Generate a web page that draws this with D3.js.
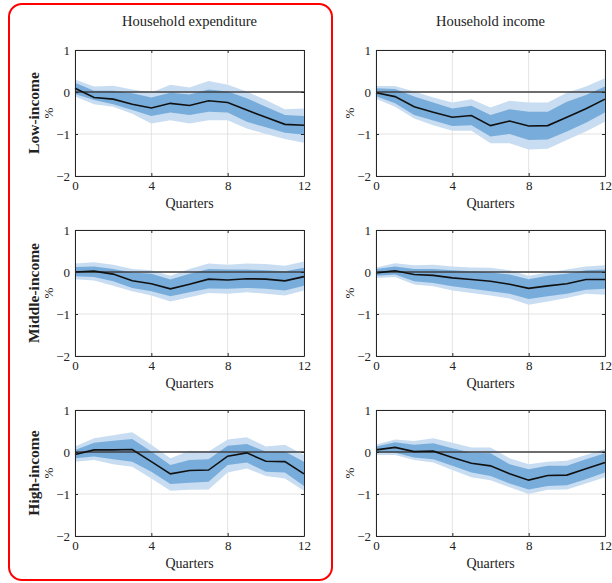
<!DOCTYPE html>
<html>
<head>
<meta charset="utf-8">
<script src="https://cdn.jsdelivr.net/npm/d3@7"></script>
<style>
  body { margin: 0; background: #fff; }
  svg text { font-family: "Liberation Serif", "DejaVu Serif", serif; fill: #222; }
</style>
</head>
<body>
<svg id="svg1"></svg>
<script>
var quarters = [0,1,2,3,4,5,6,7,8,9,10,11,12];
var xTicks = [0, 4, 8, 12];
var yTicks = [1, 0, -1, -2];
var columnTitles = ['Household expenditure', 'Household income'];
var rowTitles = ['Low-income', 'Middle-income', 'High-income'];

// low-income, expenditure
var lowExpMed  = [0.09,-0.13,-0.17,-0.29,-0.38,-0.27,-0.32,-0.21,-0.25,-0.43,-0.60,-0.77,-0.79];
var lowExpLo68 = [-0.05,-0.19,-0.29,-0.43,-0.57,-0.49,-0.55,-0.47,-0.49,-0.71,-0.84,-0.97,-1.02];
var lowExpHi68 = [0.22,0.03,0.03,-0.03,-0.13,-0.02,-0.06,0.06,0.01,-0.15,-0.35,-0.55,-0.57];
var lowExpLo90 = [-0.11,-0.29,-0.35,-0.52,-0.75,-0.67,-0.75,-0.67,-0.67,-0.87,-1.00,-1.12,-1.21];
var lowExpHi90 = [0.30,0.13,0.15,0.06,-0.01,0.17,0.11,0.26,0.17,0.01,-0.19,-0.41,-0.39];

// low-income, income
var lowIncMed  = [-0.02,-0.11,-0.35,-0.48,-0.60,-0.56,-0.80,-0.69,-0.81,-0.80,-0.60,-0.40,-0.17];
var lowIncLo68 = [-0.10,-0.27,-0.55,-0.68,-0.81,-0.79,-1.06,-1.00,-1.14,-1.13,-0.94,-0.73,-0.49];
var lowIncHi68 = [0.09,0.07,-0.11,-0.25,-0.39,-0.33,-0.55,-0.41,-0.47,-0.47,-0.23,-0.07,0.13];
var lowIncLo90 = [-0.16,-0.35,-0.63,-0.79,-0.92,-0.92,-1.22,-1.22,-1.37,-1.35,-1.14,-0.94,-0.71];
var lowIncHi90 = [0.14,0.14,0.01,-0.13,-0.25,-0.17,-0.37,-0.21,-0.25,-0.25,-0.02,0.13,0.33];

// middle-income, expenditure
var midExpMed  = [0.00,0.02,-0.05,-0.21,-0.28,-0.40,-0.29,-0.17,-0.19,-0.16,-0.17,-0.21,-0.11];
var midExpLo68 = [-0.10,-0.12,-0.22,-0.38,-0.46,-0.58,-0.48,-0.39,-0.40,-0.38,-0.40,-0.44,-0.33];
var midExpHi68 = [0.12,0.13,0.07,-0.01,-0.04,-0.18,-0.04,0.07,0.06,0.06,0.04,0.02,0.10];
var midExpLo90 = [-0.17,-0.20,-0.33,-0.46,-0.56,-0.70,-0.60,-0.50,-0.52,-0.48,-0.52,-0.56,-0.44];
var midExpHi90 = [0.20,0.23,0.17,0.07,0.04,-0.09,0.07,0.20,0.17,0.20,0.19,0.15,0.25];

// middle-income, income
var midIncMed  = [-0.02,0.03,-0.06,-0.08,-0.14,-0.18,-0.22,-0.29,-0.39,-0.33,-0.28,-0.18,-0.18];
var midIncLo68 = [-0.09,-0.06,-0.22,-0.26,-0.34,-0.40,-0.46,-0.52,-0.64,-0.58,-0.52,-0.42,-0.40];
var midIncHi68 = [0.07,0.13,0.07,0.07,0.04,0.02,-0.01,-0.06,-0.17,-0.09,-0.04,0.04,0.06];
var midIncLo90 = [-0.14,-0.12,-0.30,-0.34,-0.44,-0.50,-0.56,-0.63,-0.78,-0.70,-0.62,-0.52,-0.54];
var midIncHi90 = [0.11,0.21,0.16,0.17,0.13,0.11,0.10,0.04,-0.09,-0.01,0.06,0.13,0.16];

// high-income, expenditure
var highExpMed  = [-0.06,0.05,0.05,0.06,-0.23,-0.52,-0.44,-0.43,-0.10,-0.02,-0.22,-0.23,-0.52];
var highExpLo68 = [-0.15,-0.11,-0.17,-0.23,-0.47,-0.76,-0.73,-0.71,-0.31,-0.25,-0.47,-0.49,-0.81];
var highExpHi68 = [0.05,0.22,0.27,0.31,0.01,-0.31,-0.19,-0.17,0.15,0.19,0.01,0.01,-0.23];
var highExpLo90 = [-0.23,-0.19,-0.29,-0.35,-0.63,-0.92,-0.90,-0.89,-0.49,-0.39,-0.57,-0.63,-0.92];
var highExpHi90 = [0.13,0.33,0.40,0.47,0.17,-0.15,0.03,0.01,0.30,0.35,0.13,0.17,-0.07];

// high-income, income
var highIncMed  = [0.05,0.11,0.01,0.02,-0.13,-0.27,-0.33,-0.52,-0.67,-0.56,-0.55,-0.40,-0.25];
var highIncLo68 = [-0.02,-0.02,-0.13,-0.17,-0.33,-0.49,-0.57,-0.75,-0.89,-0.81,-0.79,-0.65,-0.49];
var highIncHi68 = [0.13,0.23,0.17,0.21,0.09,-0.02,-0.03,-0.29,-0.41,-0.33,-0.33,-0.17,-0.03];
var highIncLo90 = [-0.07,-0.07,-0.19,-0.25,-0.43,-0.60,-0.67,-0.84,-1.00,-0.90,-0.89,-0.75,-0.60];
var highIncHi90 = [0.18,0.30,0.26,0.33,0.22,0.11,0.11,-0.15,-0.29,-0.23,-0.21,-0.07,0.07];

var panels = [
  [lowExpMed, lowExpLo68, lowExpHi68, lowExpLo90, lowExpHi90],
  [lowIncMed, lowIncLo68, lowIncHi68, lowIncLo90, lowIncHi90],
  [midExpMed, midExpLo68, midExpHi68, midExpLo90, midExpHi90],
  [midIncMed, midIncLo68, midIncHi68, midIncLo90, midIncHi90],
  [highExpMed, highExpLo68, highExpHi68, highExpLo90, highExpHi90],
  [highIncMed, highIncLo68, highIncHi68, highIncLo90, highIncHi90]
];

var svg = d3.select('#svg1').attr('width', 612).attr('height', 583);

// red highlight around the expenditure column
svg.append('rect')
  .attr('x', 9).attr('y', 4).attr('width', 323).attr('height', 576)
  .attr('rx', 13).attr('ry', 13)
  .attr('fill', 'none').attr('stroke', '#ff0000').attr('stroke-width', 2);

var colLeft = [75, 376];
var plotW = 229;
var rowTop = [50, 230, 410];
var plotH = 126;

columnTitles.forEach(function(t, c){
  svg.append('text')
    .attr('x', colLeft[c] + plotW / 2).attr('y', 26)
    .attr('text-anchor', 'middle').style('font-size', '14.5px')
    .text(t);
});

for (var r = 0; r < 3; r++) {
  svg.append('text')
    .attr('transform', 'translate(39,' + (rowTop[r] + plotH / 2) + ') rotate(-90)')
    .attr('text-anchor', 'middle')
    .style('font-size', '15.5px').style('font-weight', 'bold')
    .text(rowTitles[r]);

  for (var c = 0; c < 2; c++) {
    drawPanel(colLeft[c], rowTop[r], panels[r * 2 + c]);
  }
}

function drawPanel(left, top, series) {
  var x = d3.scaleLinear().domain([0, 12]).range([0, plotW]);
  var y = d3.scaleLinear().domain([-2, 1]).range([plotH, 0]);
  var g = svg.append('g').attr('transform', 'translate(' + left + ',' + top + ')');

  // grid
  g.selectAll('.gx').data(xTicks).enter().append('line')
    .attr('x1', function(d){ return x(d); }).attr('x2', function(d){ return x(d); })
    .attr('y1', 0).attr('y2', plotH)
    .attr('stroke', '#dcdcdc').attr('stroke-width', 0.8);
  g.selectAll('.gy').data(yTicks).enter().append('line')
    .attr('x1', 0).attr('x2', plotW)
    .attr('y1', function(d){ return y(d); }).attr('y2', function(d){ return y(d); })
    .attr('stroke', '#dcdcdc').attr('stroke-width', 0.8);

  var area = function(lo, hi){
    return d3.area()
      .x(function(d, i){ return x(quarters[i]); })
      .y0(function(d, i){ return y(lo[i]); })
      .y1(function(d, i){ return y(hi[i]); })(quarters);
  };
  g.append('path').attr('d', area(series[3], series[4])).attr('fill', '#c8ddf1');
  g.append('path').attr('d', area(series[1], series[2])).attr('fill', '#78addb');

  // zero line
  g.append('line')
    .attr('x1', 0).attr('x2', plotW).attr('y1', y(0)).attr('y2', y(0))
    .attr('stroke', '#404040').attr('stroke-width', 1.5);

  var line = d3.line()
    .x(function(d, i){ return x(quarters[i]); })
    .y(function(d){ return y(d); });
  g.append('path').datum(series[0]).attr('d', line)
    .attr('fill', 'none').attr('stroke', '#111').attr('stroke-width', 1.6);

  // axes box with inward ticks
  var fmt = d3.format('d');
  var xAxisB = d3.axisBottom(x).tickValues(xTicks).tickFormat(fmt).tickSizeInner(-3).tickSizeOuter(0).tickPadding(5);
  var xAxisT = d3.axisTop(x).tickValues(xTicks).tickSizeInner(-3).tickSizeOuter(0).tickFormat('');
  var yAxisL = d3.axisLeft(y).tickValues(yTicks).tickFormat(fmt).tickSizeInner(-3).tickSizeOuter(0).tickPadding(5);
  var yAxisR = d3.axisRight(y).tickValues(yTicks).tickSizeInner(-3).tickSizeOuter(0).tickFormat('');

  [g.append('g').attr('transform', 'translate(0,' + plotH + ')').call(xAxisB),
   g.append('g').call(xAxisT),
   g.append('g').call(yAxisL),
   g.append('g').attr('transform', 'translate(' + plotW + ',0)').call(yAxisR)
  ].forEach(function(a){
    a.select('.domain').attr('stroke', '#262626');
    a.selectAll('.tick line').attr('stroke', '#262626');
    a.selectAll('text').style('font-family', '"Liberation Serif", serif')
      .style('font-size', '13px').attr('fill', '#222');
  });

  g.append('text')
    .attr('x', plotW / 2).attr('y', plotH + 32)
    .attr('text-anchor', 'middle').style('font-size', '14px')
    .text('Quarters');
  g.append('text')
    .attr('transform', 'translate(-22,' + (plotH / 2) + ') rotate(-90)')
    .attr('text-anchor', 'middle').style('font-size', '13px')
    .text('%');
}
</script>
</body>
</html>
